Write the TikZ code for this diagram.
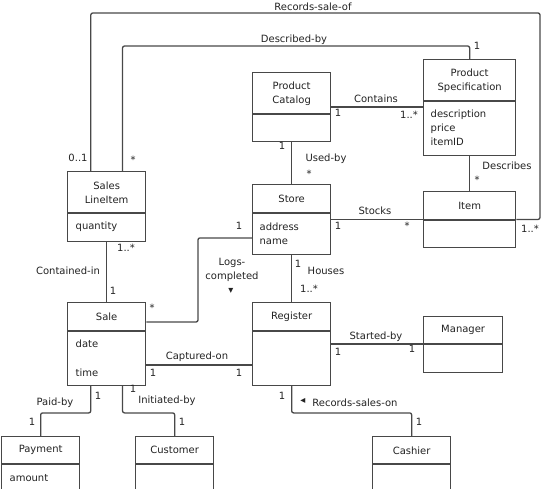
\documentclass[tikz,border=0pt]{standalone}
\usepackage{fontspec}
\setmainfont{DejaVu Sans}
\usepackage{tikz}
\usetikzlibrary{positioning, calc, shapes.multipart}
\definecolor{linegray}{HTML}{484848}
\definecolor{textgray}{HTML}{222222}
\newcommand{\cellbox}[3]{\parbox[c][#2][c]{#1}{#3}}

\begin{document}
\begin{tikzpicture}[x=1pt, y=-1pt,
  every node/.style={font=\fontsize{10}{14}\selectfont, text=textgray},
  cls/.style={draw=linegray, line width=1.3pt, rectangle split, rectangle split parts=2, inner sep=0pt, anchor=north west},
  assoc/.style={draw=linegray, line width=1.3pt, rounded corners=2pt}]
\useasboundingbox (0,0) rectangle (556,489);
% classes
\node[cls] (sli) at (67,171) {\cellbox{78pt}{40pt}{\centering Sales\\LineItem}\nodepart{two}\cellbox{78pt}{27pt}{\hspace*{8pt}quantity}};
\node[cls] (cat) at (252,72) {\cellbox{78pt}{40pt}{\centering Product\\Catalog}\nodepart{two}\cellbox{78pt}{26pt}{}};
\node[cls] (spec) at (423,59) {\cellbox{92pt}{40pt}{\centering Product\\Specification}\nodepart{two}\cellbox{92pt}{53pt}{\hspace*{7pt}description\\\hspace*{7pt}price\\\hspace*{7pt}itemID}};
\node[cls] (store) at (252,184) {\cellbox{78pt}{27pt}{\centering Store}\nodepart{two}\cellbox{78pt}{40pt}{\hspace*{7pt}address\\\hspace*{7pt}name}};
\node[cls] (item) at (423,191) {\cellbox{92pt}{27pt}{\centering Item}\nodepart{two}\cellbox{92pt}{26pt}{}};
\node[cls] (sale) at (67,302) {\cellbox{78pt}{27pt}{\centering Sale}\nodepart{two}\cellbox{78pt}{53pt}{\hspace*{8pt}date\\[15pt]\hspace*{8pt}time}};
\node[cls] (reg) at (252,302) {\cellbox{78pt}{27pt}{\centering Register}\nodepart{two}\cellbox{78pt}{53pt}{}};
\node[cls] (mgr) at (423,316) {\cellbox{79pt}{26pt}{\centering Manager}\nodepart{two}\cellbox{79pt}{27pt}{}};
\node[cls] (pay) at (1,436) {\cellbox{78pt}{26pt}{\centering Payment}\nodepart{two}\cellbox{78pt}{26pt}{\hspace*{8pt}amount}};
\node[cls] (cust) at (135,436) {\cellbox{78pt}{26pt}{\centering Customer}\nodepart{two}\cellbox{78pt}{26pt}{}};
\node[cls] (cash) at (372,436) {\cellbox{78pt}{26pt}{\centering Cashier}\nodepart{two}\cellbox{78pt}{26pt}{}};
% corners
\coordinate (rso) at (540,13);
\coordinate (dsc) at ($(spec.north)+(0,-13)$);
\coordinate (lgc) at (198,322);
% associations
\draw[assoc] ($(sli.north west)!.3!(sli.north east)$) |- (rso) |- (item.east);
\draw[assoc] ($(sli.north west)!.7!(sli.north east)$) |- (dsc) -- (spec.north);
\draw[assoc] (cat.east) -- (cat.east -| spec.west);
\draw[assoc] (cat.south) -- (store.north);
\draw[assoc] (spec.south) -- (item.north);
\draw[assoc] (store.east) -- (store.east -| item.west);
\draw[assoc] ($(store.south west)+(0,-17)$) -| (lgc) -- (lgc -| sale.east);
\draw[assoc] (sli.south) -- (sale.north);
\draw[assoc] (store.south) -- (reg.north);
\draw[assoc] ($(sale.east)+(0,21)$) coordinate (cap) -- (cap -| reg.west);
\draw[assoc] (reg.east) -- (reg.east -| mgr.west);
\draw[assoc] ($(sale.south west)!.3!(sale.south east)$) -- ++(0,27) -| (pay.north);
\draw[assoc] ($(sale.south west)!.7!(sale.south east)$) -- ++(0,27) -| (cust.north);
\draw[assoc] (reg.south) -- ++(0,27) -| (cash.north);
% labels
\node (recSale) at (313,7) {Records-sale-of};
\node (recSaleA) at (78,158) {0..1};
\node (recSaleB) at (530,229) {1..*};
\node (descBy) at (294,40) {Described-by};
\node (descByA) at (133,160) {*};
\node (descByB) at (477,46) {1};
\node (cont) at (376,99) {Contains};
\node (contA) at (338,113) {1};
\node (contB) at (409,115) {1..*};
\node (used) at (326,159) {Used-by};
\node (usedA) at (282,146) {1};
\node (usedB) at (309,174) {*};
\node (descr) at (507,166) {Describes};
\node (descrA) at (477,180) {*};
\node (stock) at (375,211) {Stocks};
\node (stockA) at (338,226) {1};
\node (stockB) at (407,226) {*};
\node (logs) at (232,270) {\parbox{60pt}{\centering Logs-\\completed}};
\node (logsDir) at (231,291) {▾};
\node (logsA) at (239,226) {1};
\node (logsB) at (152,308) {*};
\node (contIn) at (68,271) {Contained-in};
\node (contInA) at (126,248) {1..*};
\node (contInB) at (113,291) {1};
\node (house) at (326,271) {Houses};
\node (houseA) at (298,264) {1};
\node (houseB) at (309,289) {1..*};
\node (capt) at (197,357) {Captured-on};
\node (captA) at (153,373) {1};
\node (captB) at (239,373) {1};
\node (start) at (376,337) {Started-by};
\node (startA) at (338,352) {1};
\node (startB) at (412,349) {1};
\node (paid) at (55,403) {Paid-by};
\node (paidA) at (98,396) {1};
\node (paidB) at (32,422) {1};
\node (init) at (167,401) {Initiated-by};
\node (initA) at (133,389) {1};
\node (initB) at (182,422) {1};
\node (recOn) at (355,403) {Records-sales-on};
\node (recOnDir) at (303,401) {◂};
\node (recOnA) at (282,396) {1};
\node (recOnB) at (419,422) {1};
\end{tikzpicture}
\end{document}
